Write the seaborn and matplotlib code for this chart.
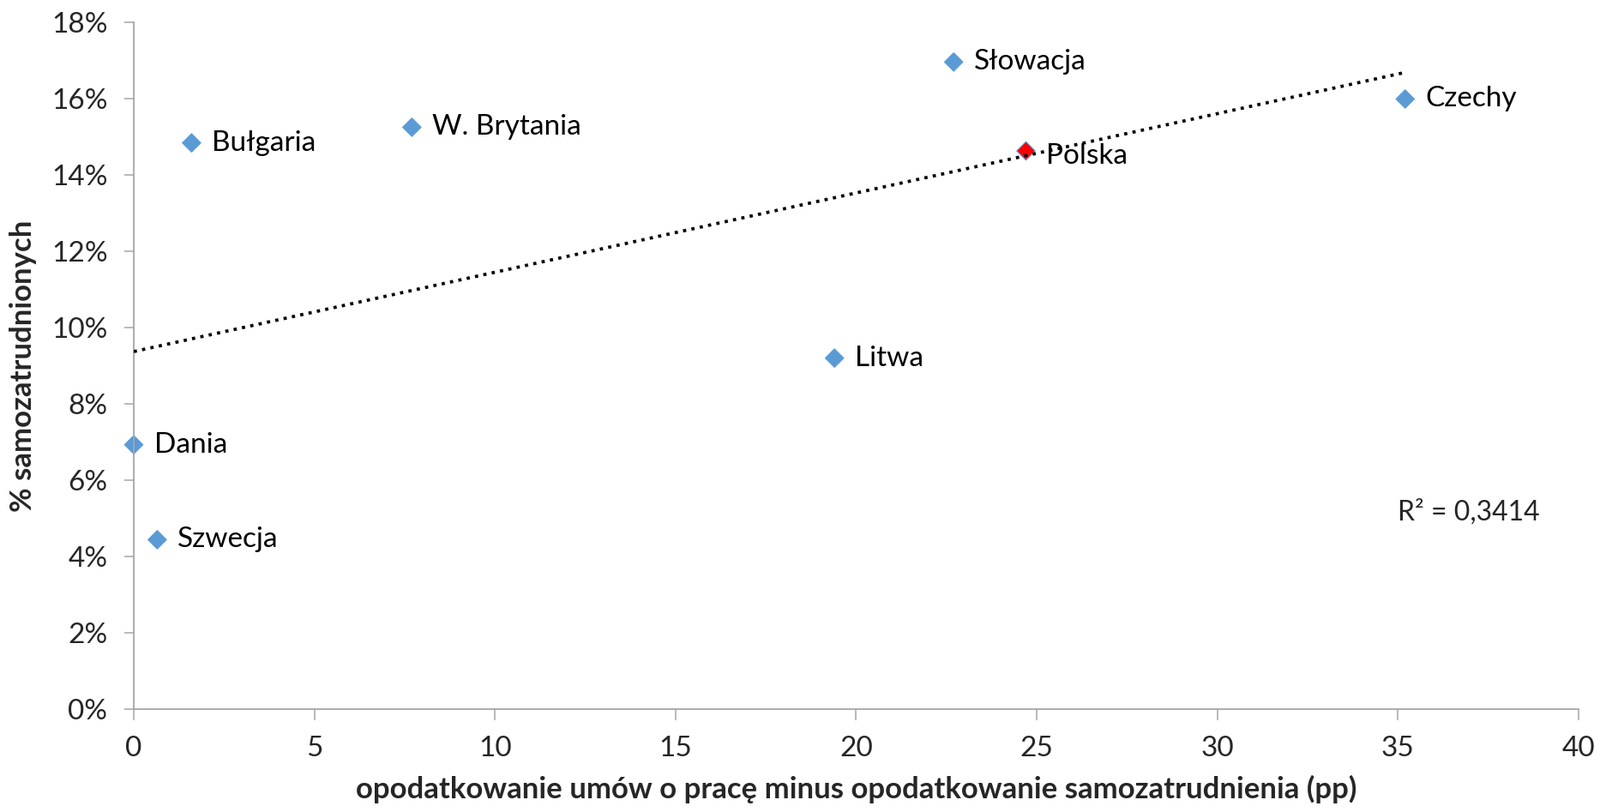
import matplotlib
matplotlib.use("Agg")
import matplotlib.pyplot as plt
import seaborn as sns
import pandas as pd
from matplotlib.ticker import FuncFormatter

# dane
kraje = ["Bułgaria", "W. Brytania", "Słowacja", "Czechy", "Polska", "Litwa", "Dania", "Szwecja"]
roznica_pp = [1.6, 7.7, 22.7, 35.2, 24.7, 19.4, 0.0, 0.65]
samozatrudnieni = [14.84, 15.25, 16.96, 15.99, 14.63, 9.20, 6.93, 4.44]
r2_tekst = "R² = 0,3414"
x_ticks = [0, 5, 10, 15, 20, 25, 30, 35, 40]
y_ticks = [0, 2, 4, 6, 8, 10, 12, 14, 16, 18]

df = pd.DataFrame({"kraj": kraje, "x": roznica_pp, "y": samozatrudnieni})
df["grupa"] = ["Polska" if k == "Polska" else "inne" for k in df["kraj"]]

sns.set_style("white")
plt.rcParams["font.family"] = ["Lato", "DejaVu Sans"]

fig, ax = plt.subplots(figsize=(18.66, 9.47), dpi=100)
fig.subplots_adjust(left=0.0836, right=0.9866, bottom=0.1267, top=0.9725)

sns.scatterplot(data=df, x="x", y="y", hue="grupa",
                palette={"inne": "#5b9bd5", "Polska": "#ff0000"},
                marker="D", s=120, edgecolor="#5b9bd5", linewidth=0.8,
                legend=False, ax=ax, clip_on=False, zorder=2)

# linia trendu
sns.regplot(data=df, x="x", y="y", scatter=False, ci=None, truncate=True, ax=ax,
            line_kws=dict(color="black", linestyle=":", linewidth=2.7, zorder=3))

for _, r in df.iterrows():
    dy = -4 if r["kraj"] == "Polska" else 0
    ax.annotate(r["kraj"], (r["x"], r["y"]), xytext=(17, dy), textcoords="offset points",
                va="center", ha="left", fontsize=24, color="black", zorder=4)

ax.text(35.0, 5.16, r2_tekst, fontsize=23, va="center", ha="left")

ax.set_xlim(0, 40)
ax.set_ylim(0, 18)
ax.set_xticks(x_ticks)
ax.set_yticks(y_ticks)
ax.yaxis.set_major_formatter(FuncFormatter(lambda v, p: f"{v:.0f}%"))

sns.despine(ax=ax)
for s in ["left", "bottom"]:
    ax.spines[s].set_color("#a6a6a6")
    ax.spines[s].set_linewidth(1.3)
ax.tick_params(axis="x", direction="out", length=9, width=1.1, color="#a6a6a6",
               labelsize=24, pad=13, bottom=True)
ax.tick_params(axis="y", direction="out", length=8, width=1.1, color="#a6a6a6",
               labelsize=24, pad=14, left=True)

ax.set_xlabel("opodatkowanie umów o pracę minus opodatkowanie samozatrudnienia (pp)",
              fontsize=25, fontweight="bold", labelpad=12)
ax.set_ylabel("% samozatrudnionych", fontsize=25, fontweight="bold", labelpad=12)

plt.savefig("out.png", dpi=100, facecolor="white")
